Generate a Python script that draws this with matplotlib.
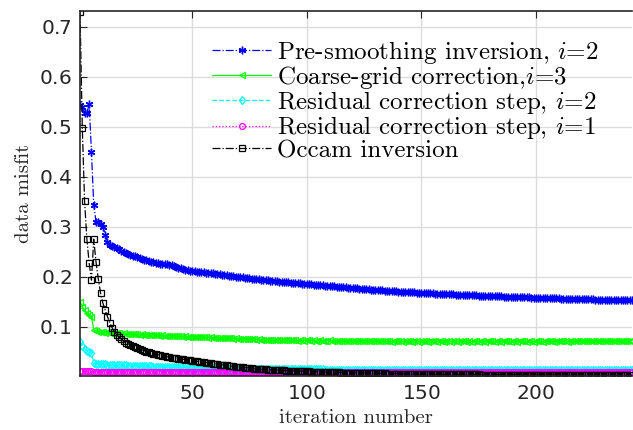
import numpy as np
import matplotlib.pyplot as plt

plt.rcParams['mathtext.fontset'] = 'cm'
plt.rcParams['axes.formatter.use_mathtext'] = True

# data misfit per iteration
pre_smooth_i2 = [
    0.543, 0.540, 0.527, 0.527, 0.545, 0.449, 0.343, 0.310, 0.309, 0.306,
    0.300, 0.284, 0.270, 0.263, 0.261, 0.259, 0.257, 0.255, 0.252, 0.250,
    0.248, 0.246, 0.244, 0.242, 0.241, 0.239, 0.237, 0.236, 0.234, 0.233,
    0.232, 0.230, 0.229, 0.228, 0.227, 0.226, 0.226, 0.225, 0.225, 0.224,
    0.223, 0.222, 0.220, 0.218, 0.217, 0.215, 0.214, 0.213, 0.212, 0.211,
    0.211, 0.210, 0.210, 0.209, 0.209, 0.208, 0.208, 0.207, 0.207, 0.206,
    0.205, 0.205, 0.204, 0.203, 0.203, 0.202, 0.201, 0.201, 0.200, 0.200,
    0.199, 0.199, 0.198, 0.197, 0.197, 0.196, 0.196, 0.195, 0.195, 0.194,
    0.194, 0.193, 0.193, 0.192, 0.192, 0.191, 0.191, 0.190, 0.190, 0.189,
    0.189, 0.189, 0.188, 0.188, 0.187, 0.187, 0.187, 0.186, 0.186, 0.186,
    0.185, 0.185, 0.184, 0.184, 0.184, 0.183, 0.183, 0.182, 0.182, 0.182,
    0.181, 0.181, 0.180, 0.180, 0.179, 0.179, 0.179, 0.178, 0.178, 0.177,
    0.177, 0.177, 0.176, 0.176, 0.175, 0.175, 0.175, 0.174, 0.174, 0.174,
    0.173, 0.173, 0.173, 0.172, 0.172, 0.172, 0.171, 0.171, 0.171, 0.170,
    0.170, 0.170, 0.170, 0.169, 0.169, 0.169, 0.169, 0.168, 0.168, 0.168,
    0.168, 0.167, 0.167, 0.167, 0.167, 0.166, 0.166, 0.166, 0.166, 0.166,
    0.165, 0.165, 0.165, 0.165, 0.164, 0.164, 0.164, 0.164, 0.164, 0.163,
    0.163, 0.163, 0.163, 0.163, 0.162, 0.162, 0.162, 0.162, 0.162, 0.161,
    0.161, 0.161, 0.161, 0.161, 0.161, 0.160, 0.160, 0.160, 0.160, 0.160,
    0.160, 0.159, 0.159, 0.159, 0.159, 0.159, 0.159, 0.158, 0.158, 0.158,
    0.158, 0.158, 0.158, 0.157, 0.157, 0.157, 0.157, 0.157, 0.157, 0.157,
    0.156, 0.156, 0.156, 0.156, 0.156, 0.156, 0.156, 0.155, 0.155, 0.155,
    0.155, 0.155, 0.155, 0.155, 0.155, 0.154, 0.154, 0.154, 0.154, 0.154,
    0.154, 0.154, 0.154, 0.153, 0.153, 0.153, 0.153, 0.153, 0.153, 0.153,
    0.153, 0.153]

coarse_i3 = [
    0.150, 0.140, 0.133, 0.127, 0.123, 0.120, 0.093, 0.091, 0.090, 0.089,
    0.089, 0.088, 0.089, 0.088, 0.087, 0.088, 0.087, 0.087, 0.086, 0.087,
    0.086, 0.086, 0.085, 0.086, 0.085, 0.085, 0.084, 0.085, 0.084, 0.084,
    0.084, 0.083, 0.084, 0.083, 0.083, 0.082, 0.083, 0.082, 0.082, 0.082,
    0.081, 0.082, 0.081, 0.081, 0.081, 0.080, 0.081, 0.080, 0.080, 0.080,
    0.080, 0.079, 0.080, 0.079, 0.079, 0.079, 0.078, 0.079, 0.078, 0.078,
    0.078, 0.078, 0.077, 0.078, 0.077, 0.077, 0.077, 0.076, 0.077, 0.076,
    0.076, 0.076, 0.075, 0.076, 0.075, 0.075, 0.075, 0.074, 0.075, 0.074,
    0.074, 0.074, 0.074, 0.073, 0.074, 0.073, 0.073, 0.074, 0.073, 0.073,
    0.073, 0.074, 0.073, 0.073, 0.073, 0.072, 0.073, 0.073, 0.072, 0.073,
    0.073, 0.072, 0.073, 0.072, 0.072, 0.073, 0.072, 0.072, 0.072, 0.073,
    0.072, 0.072, 0.071, 0.072, 0.072, 0.071, 0.072, 0.071, 0.072, 0.071,
    0.071, 0.072, 0.071, 0.071, 0.072, 0.071, 0.071, 0.071, 0.072, 0.071,
    0.071, 0.071, 0.071, 0.072, 0.071, 0.071, 0.070, 0.071, 0.071, 0.071,
    0.071, 0.070, 0.071, 0.071, 0.071, 0.070, 0.071, 0.071, 0.070, 0.071,
    0.071, 0.071, 0.070, 0.071, 0.071, 0.071, 0.070, 0.071, 0.071, 0.070,
    0.071, 0.071, 0.070, 0.071, 0.071, 0.070, 0.071, 0.071, 0.071, 0.070,
    0.071, 0.070, 0.071, 0.071, 0.070, 0.071, 0.071, 0.070, 0.071, 0.071,
    0.071, 0.070, 0.071, 0.071, 0.070, 0.071, 0.071, 0.071, 0.070, 0.071,
    0.071, 0.070, 0.071, 0.071, 0.071, 0.070, 0.071, 0.071, 0.070, 0.071,
    0.071, 0.071, 0.070, 0.071, 0.071, 0.071, 0.071, 0.070, 0.071, 0.071,
    0.071, 0.071, 0.071, 0.070, 0.071, 0.071, 0.071, 0.071, 0.071, 0.071,
    0.071, 0.071, 0.071, 0.071, 0.072, 0.071, 0.071, 0.071, 0.072, 0.071,
    0.071, 0.072, 0.071, 0.071, 0.072, 0.071, 0.072, 0.071, 0.072, 0.072,
    0.071, 0.072]

residual_i2 = [
    0.070, 0.062, 0.056, 0.051, 0.049, 0.047, 0.027, 0.026, 0.026, 0.025,
    0.025, 0.025, 0.024, 0.024, 0.024, 0.024, 0.023, 0.023, 0.023, 0.023,
    0.023, 0.022, 0.022, 0.022, 0.022, 0.022, 0.021, 0.021, 0.021, 0.021,
    0.021, 0.021, 0.020, 0.020, 0.020, 0.020, 0.020, 0.020, 0.019, 0.019,
    0.019, 0.019, 0.019, 0.019, 0.019, 0.018, 0.018, 0.018, 0.018, 0.018,
    0.018, 0.018, 0.018, 0.017, 0.017, 0.017, 0.017, 0.017, 0.017, 0.017,
    0.017, 0.017, 0.016, 0.016, 0.016, 0.016, 0.016, 0.016, 0.016, 0.016,
    0.016, 0.016, 0.016, 0.016, 0.015, 0.015, 0.015, 0.015, 0.015, 0.015,
    0.0152, 0.0151, 0.0151, 0.0150, 0.0150, 0.0150, 0.0149, 0.0149, 0.0149, 0.0148,
    0.0148, 0.0148, 0.0147, 0.0147, 0.0147, 0.0146, 0.0146, 0.0146, 0.0146, 0.0145,
    0.0145, 0.0145, 0.0145, 0.0144, 0.0144, 0.0144, 0.0144, 0.0143, 0.0143, 0.0143,
    0.0143, 0.0143, 0.0142, 0.0142, 0.0142, 0.0142, 0.0142, 0.0141, 0.0141, 0.0141,
    0.0141, 0.0141, 0.0141, 0.0140, 0.0140, 0.0140, 0.0140, 0.0140, 0.0140, 0.0139,
    0.0139, 0.0139, 0.0139, 0.0139, 0.0139, 0.0139, 0.0138, 0.0138, 0.0138, 0.0138,
    0.0138, 0.0138, 0.0138, 0.0138, 0.0137, 0.0137, 0.0137, 0.0137, 0.0137, 0.0137,
    0.0137, 0.0137, 0.0137, 0.0136, 0.0136, 0.0136, 0.0136, 0.0136, 0.0136, 0.0136,
    0.0136, 0.0136, 0.0136, 0.0135, 0.0135, 0.0135, 0.0135, 0.0135, 0.0135, 0.0135,
    0.0135, 0.0135, 0.0135, 0.0135, 0.0134, 0.0134, 0.0134, 0.0134, 0.0134, 0.0134,
    0.0134, 0.0134, 0.0134, 0.0134, 0.0134, 0.0134, 0.0133, 0.0133, 0.0133, 0.0133,
    0.0133, 0.0133, 0.0133, 0.0133, 0.0133, 0.0133, 0.0133, 0.0133, 0.0133, 0.0132,
    0.0132, 0.0132, 0.0132, 0.0132, 0.0132, 0.0132, 0.0132, 0.0132, 0.0132, 0.0132,
    0.0132, 0.0132, 0.0132, 0.0131, 0.0131, 0.0131, 0.0131, 0.0131, 0.0131, 0.0131,
    0.0131, 0.0131, 0.0131, 0.0131, 0.0131, 0.0131, 0.0131, 0.0131, 0.0130, 0.0130,
    0.0130, 0.0130, 0.0130, 0.0130, 0.0130, 0.0130, 0.0130, 0.0130, 0.0130, 0.0130,
    0.0130, 0.0130]

residual_i1 = [
    0.0115, 0.0112, 0.0108, 0.0106, 0.0105, 0.0104, 0.0103, 0.0103, 0.0102, 0.0102,
    0.0102, 0.0102, 0.0101, 0.0101, 0.0101, 0.0101, 0.0101, 0.0101, 0.0101, 0.0101,
    0.0101, 0.0101, 0.0101, 0.0101, 0.0101, 0.0101, 0.0101, 0.0101, 0.0101, 0.0101,
    0.0101, 0.0101, 0.0101, 0.0101, 0.0101, 0.0101, 0.0101, 0.0101, 0.0101, 0.0101,
    0.0101, 0.0101, 0.0101, 0.0101, 0.0101, 0.0101, 0.0101, 0.0101, 0.0101, 0.0101,
    0.0101, 0.0101, 0.0101, 0.0101, 0.0101, 0.0101, 0.0101, 0.0101, 0.0101, 0.0101,
    0.0101, 0.0101, 0.0101, 0.0101, 0.0101, 0.0101, 0.0101, 0.0101, 0.0101, 0.0101,
    0.0101, 0.0101, 0.0101, 0.0101, 0.0101, 0.0101, 0.0101, 0.0101, 0.0101, 0.0101,
    0.0101, 0.0101, 0.0101, 0.0101, 0.0101, 0.0101, 0.0101, 0.0101, 0.0101, 0.0101,
    0.0101, 0.0101, 0.0101, 0.0101, 0.0101, 0.0101, 0.0101, 0.0101, 0.0101, 0.0101,
    0.0101, 0.0101, 0.0101, 0.0101, 0.0101, 0.0101, 0.0101, 0.0101, 0.0101, 0.0101,
    0.0101, 0.0101, 0.0101, 0.0101, 0.0101, 0.0101, 0.0101, 0.0101, 0.0101, 0.0101,
    0.0101, 0.0101, 0.0101, 0.0101, 0.0101, 0.0101, 0.0101, 0.0101, 0.0101, 0.0101,
    0.0101, 0.0101, 0.0101, 0.0101, 0.0101, 0.0101, 0.0101, 0.0101, 0.0101, 0.0101,
    0.0101, 0.0101, 0.0101, 0.0101, 0.0101, 0.0101, 0.0101, 0.0101, 0.0101, 0.0101,
    0.0101, 0.0101, 0.0101, 0.0101, 0.0101, 0.0101, 0.0101, 0.0101, 0.0101, 0.0101,
    0.0101, 0.0101, 0.0101, 0.0101, 0.0101, 0.0101, 0.0101, 0.0101, 0.0101, 0.0101,
    0.0101, 0.0101, 0.0101, 0.0101, 0.0101, 0.0101, 0.0101, 0.0101, 0.0101, 0.0101,
    0.0101, 0.0101, 0.0101, 0.0101, 0.0101, 0.0101, 0.0101, 0.0101, 0.0101, 0.0101,
    0.0101, 0.0101, 0.0101, 0.0101, 0.0101, 0.0101, 0.0101, 0.0101, 0.0101, 0.0101,
    0.0101, 0.0101, 0.0101, 0.0101, 0.0101, 0.0101, 0.0101, 0.0101, 0.0101, 0.0101,
    0.0101, 0.0101, 0.0101, 0.0101, 0.0101, 0.0101, 0.0101, 0.0101, 0.0101, 0.0101,
    0.0101, 0.0101, 0.0101, 0.0101, 0.0101, 0.0101, 0.0101, 0.0101, 0.0101, 0.0101,
    0.0101, 0.0101, 0.0101, 0.0101, 0.0101, 0.0101, 0.0101, 0.0101, 0.0101, 0.0101,
    0.0101, 0.0101]

occam = [
    0.730, 0.498, 0.351, 0.275, 0.227, 0.193, 0.275, 0.229, 0.195, 0.167,
    0.147, 0.133, 0.120, 0.108, 0.098, 0.090, 0.084, 0.079, 0.075, 0.071,
    0.068, 0.066, 0.063, 0.061, 0.059, 0.057, 0.055, 0.054, 0.052, 0.050,
    0.049, 0.047, 0.046, 0.045, 0.044, 0.043, 0.042, 0.041, 0.040, 0.039,
    0.038, 0.038, 0.037, 0.036, 0.036, 0.035, 0.034, 0.034, 0.033, 0.032,
    0.032, 0.031, 0.030, 0.030, 0.029, 0.028, 0.028, 0.027, 0.026, 0.026,
    0.025, 0.024, 0.024, 0.023, 0.023, 0.022, 0.021, 0.021, 0.020, 0.020,
    0.019, 0.019, 0.018, 0.018, 0.017, 0.017, 0.016, 0.016, 0.016, 0.015,
    0.015, 0.015, 0.014, 0.014, 0.014, 0.014, 0.013, 0.013, 0.013, 0.013,
    0.012, 0.012, 0.012, 0.012, 0.012, 0.011, 0.011, 0.011, 0.011, 0.011,
    0.0105, 0.0103, 0.0101, 0.0099, 0.0097, 0.0095, 0.0094, 0.0092, 0.0091, 0.0089,
    0.0088, 0.0087, 0.0085, 0.0084, 0.0083, 0.0082, 0.0081, 0.0080, 0.0079, 0.0078,
    0.0077, 0.0076, 0.0075, 0.0074, 0.0073, 0.0072, 0.0071, 0.0070, 0.0069, 0.0068,
    0.0067, 0.0066, 0.0065, 0.0064, 0.0063, 0.0063, 0.0062, 0.0061, 0.0060, 0.0060,
    0.0059, 0.0058, 0.0058, 0.0057, 0.0056, 0.0056, 0.0055, 0.0055, 0.0054, 0.0054,
    0.0053, 0.0053, 0.0052, 0.0052, 0.0051, 0.0051, 0.0050, 0.0050, 0.0049, 0.0049,
    0.0049, 0.0048, 0.0048, 0.0047, 0.0047, 0.0047, 0.0046, 0.0046, 0.0046, 0.0045,
    0.0045, 0.0045, 0.0044, 0.0044, 0.0044, 0.0043, 0.0043, 0.0043, 0.0042, 0.0042,
    0.0042, 0.0042, 0.0041, 0.0041, 0.0041, 0.0040, 0.0040, 0.0040, 0.0040, 0.0039,
    0.0039, 0.0039, 0.0039, 0.0038, 0.0038, 0.0038, 0.0038, 0.0037, 0.0037, 0.0037,
    0.0037, 0.0036, 0.0036, 0.0036, 0.0036, 0.0035, 0.0035, 0.0035, 0.0035, 0.0035,
    0.0034, 0.0034, 0.0034, 0.0034, 0.0034, 0.0033, 0.0033, 0.0033, 0.0033, 0.0033,
    0.0032, 0.0032, 0.0032, 0.0032, 0.0032, 0.0032, 0.0031, 0.0031, 0.0031, 0.0031,
    0.0031, 0.0031, 0.0030, 0.0030, 0.0030, 0.0030, 0.0030, 0.0030, 0.0029, 0.0029,
    0.0029, 0.0029]

labels = ['Pre-smoothing inversion, $i$=2',
          'Coarse-grid correction,$i$=3',
          'Residual correction step, $i$=2',
          'Residual correction step, $i$=1',
          'Occam inversion']

AX_GREY = '#262626'
CM = 'cmr10'

fig = plt.figure(figsize=(6.33, 4.30), dpi=100)
ax = fig.add_axes([80/633, 54.3/430, 552/633, 364.7/430])

series = [
    (pre_smooth_i2, dict(color='#0000ff', ls='-.', marker=(6, 2, 0), ms=5.5, mew=1.0)),
    (coarse_i3, dict(color='#00ff00', ls='-', marker='<', ms=4.5, mfc='none', mew=0.9)),
    (residual_i2, dict(color='#00ffff', ls='--', marker='d', ms=4.5, mfc='none', mew=0.9)),
    (residual_i1, dict(color='#ff00ff', ls=':', marker='o', ms=4.2, mfc='none', mew=0.9)),
    (occam, dict(color='black', ls='-.', marker='s', ms=3.8, mfc='none', mew=0.9)),
]
for (vals, st), lab in zip(series, labels):
    it = np.arange(1, len(vals) + 1)
    ax.plot(it, vals, lw=0.9, label=lab, **st)

ax.set_xlim(1, 242)
ax.set_ylim(0.002, 0.731)
ax.set_xticks([50, 100, 150, 200])
ax.set_yticks([0.1, 0.2, 0.3, 0.4, 0.5, 0.6, 0.7])
ax.grid(True, color='#dcdcdc', lw=1)
ax.set_axisbelow(True)
ax.tick_params(direction='in', top=True, right=False, length=5,
               labelsize=14.5, colors=AX_GREY, pad=6)
for side in ['left', 'top', 'bottom']:
    ax.spines[side].set_color(AX_GREY)
    ax.spines[side].set_linewidth(1.2)
ax.spines['right'].set_visible(False)

ax.set_xlabel('iteration number', fontfamily=CM, fontsize=15, color=AX_GREY, labelpad=4)
ax.set_ylabel('data misfit', fontfamily=CM, fontsize=15, color=AX_GREY, labelpad=4)

leg = ax.legend(loc='upper right', frameon=False, numpoints=1,
                handlelength=2.35, handletextpad=0.25, labelspacing=-0.07,
                borderaxespad=0.0, bbox_to_anchor=(0.958, 0.952),
                prop={'family': CM, 'size': 18})

fig.savefig('out.png', dpi=100)
